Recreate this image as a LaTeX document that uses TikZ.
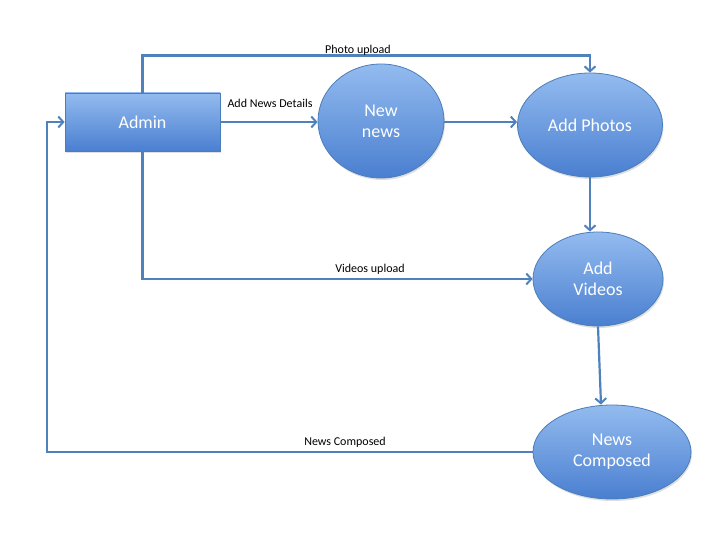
\documentclass[tikz,border=0pt]{standalone}
\usepackage{fontspec}
\setmainfont{Carlito}
\usetikzlibrary{shapes.geometric, arrows.meta, shadows}

\definecolor{boxtop}{HTML}{93BBEF}
\definecolor{boxbot}{HTML}{4A7FD0}
\definecolor{boxline}{HTML}{4A7EBB}
\definecolor{flowline}{HTML}{4F81BD}

\tikzset{
	proc/.style={draw=boxline, line width=0.8pt, top color=boxtop, bottom color=boxbot,
		text=white, font=\fontsize{18}{21}\selectfont, align=center, inner sep=0pt,
		drop shadow={opacity=0.25, shadow xshift=1pt, shadow yshift=-2pt}},
	oval/.style={proc, ellipse},
	flow/.style={draw=flowline, line width=2.2pt, -{Straight Barb[length=5pt, width=11pt, line width=2pt]}},
	lbl/.style={font=\fontsize{12}{14}\selectfont, inner sep=0pt}
}

\begin{document}
\begin{tikzpicture}[x=1pt, y=-1pt]
	\useasboundingbox[fill=white] (0,0) rectangle (720,540);
	% nodes
	\node[proc, minimum width=155pt, minimum height=58pt] (admin) at (142.5,122) {Admin};
	\node[oval, minimum width=126pt, minimum height=114pt] (newnews) at (381,121) {New\\news};
	\node[oval, minimum width=145pt, minimum height=104pt] (photos) at (590,125) {Add Photos};
	\node[oval, minimum width=130pt, minimum height=94pt] (videos) at (598,279) {Add\\Videos};
	\node[oval, minimum width=158pt, minimum height=94pt] (composed) at (612,452) {News\\Composed};
	\coordinate (loop) at (47,0);
	% connectors
	\draw[flow] (admin.east) -- (admin.east -| newnews.west);
	\draw[flow] (admin.east -| newnews.east) -- (admin.east -| photos.west);
	\draw[flow] (admin.north) -- ++(0,-37) -| (photos.north);
	\draw[flow] (photos.south) -- (photos.south |- videos.north);
	\draw[flow] (admin.south) |- (videos.west);
	\draw[flow] (videos.south) -- ([xshift=-11pt]composed.north);
	\draw[flow] (composed.west) -- (composed.west -| loop) |- (admin.west);
	% labels
	\node[lbl] (lphoto) at (358,50) {Photo upload};
	\node[lbl] (ldetails) at (270,103) {Add News Details};
	\node[lbl] (lvideos) at (370,269) {Videos upload};
	\node[lbl] (lcomposed) at (345,442) {News Composed};
\end{tikzpicture}
\end{document}
